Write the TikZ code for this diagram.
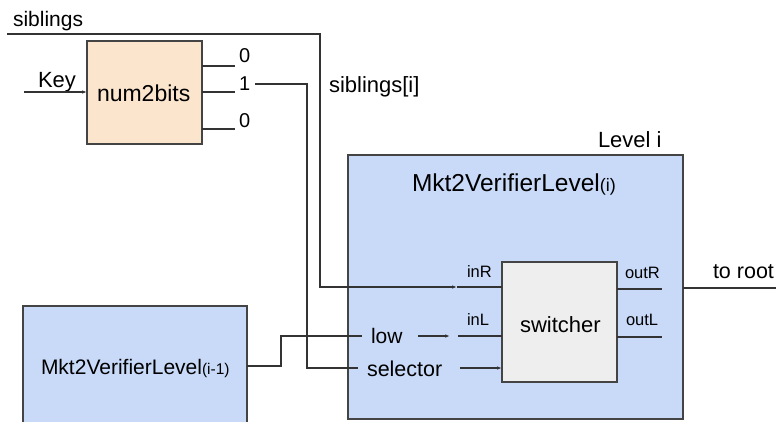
\documentclass[tikz,border=0pt]{standalone}
\usepackage{fontspec}
\setmainfont{Liberation Sans}
\usetikzlibrary{arrows.meta}
\definecolor{bluefill}{HTML}{C9DAF8}
\definecolor{peach}{HTML}{FCE5CD}
\definecolor{swgray}{HTML}{EEEEEE}
\definecolor{ink}{HTML}{333333}
\definecolor{edge}{HTML}{444444}
\newcommand{\setpx}[1]{\fontsize{#1}{#1}\selectfont}

\begin{document}
\begin{tikzpicture}[x=1pt,y=-1pt,
  box/.style={draw=edge, line width=1.1pt, inner sep=0pt, outer sep=0pt},
  wire/.style={draw=ink, line width=1.1pt},
  arr/.style={wire, -{Latex[length=5pt,width=3.5pt]}},
  lbl/.style={inner sep=0pt, outer sep=0pt, anchor=base west, text=black, font=\setpx{22}},
  pin/.style={lbl, font=\setpx{16.5}},
]
\clip (0,0) rectangle (776,421);
\fill[white] (0,0) rectangle (776,421);

% blocks
\node[box, fill=peach, minimum width=115pt, minimum height=103pt] (nb) at (144.5,92.5) {};
\node[lbl, font=\setpx{23}] (nbtext) at (97,101) {num2bits};

\node[box, fill=bluefill, minimum width=224pt, minimum height=120pt] (prev) at (135,366) {};
\node[lbl, font=\setpx{21}] (prevtext) at (41,374) {Mkt2VerifierLevel{\setpx{15.5}(i-1)}};

\node[box, fill=bluefill, minimum width=335pt, minimum height=264pt] (lvl) at (515.5,287) {};
\node[lbl, font=\setpx{24.5}] (lvltext) at (412,191) {Mkt2VerifierLevel{\setpx{18}(i)}};
\node[lbl] (levelname) at (598,147) {Level i};

\node[box, fill=swgray, minimum width=115pt, minimum height=120pt] (sw) at (559.5,322) {};
\node[lbl] (swtext) at (520,332) {switcher};

% labels
\node[lbl, font=\setpx{21}] (sibtext) at (13,26) {siblings};
\node[lbl] (keytext) at (38,87) {Key};
\node[lbl, font=\setpx{20}] (bitA) at (239,62) {0};
\node[lbl, font=\setpx{20}] (bitB) at (239,90) {1};
\node[lbl, font=\setpx{20}] (bitC) at (239,127) {0};
\node[lbl] (sibi) at (329,92) {siblings[i]};
\node[pin] (inR) at (467,277) {inR};
\node[pin] (inL) at (467,325) {inL};
\node[pin] (outR) at (625,278) {outR};
\node[pin] (outL) at (626,325) {outL};
\node[lbl, font=\setpx{21.5}] (toroot) at (713,278) {to root};
\node[lbl, font=\setpx{21}] (low) at (371,343) {low};
\node[lbl, font=\setpx{21.5}] (sel) at (367,376) {selector};

% wire end points
\coordinate (keyin) at (24,92);
\coordinate (bitAend) at (235,66);
\coordinate (bitBend) at (235,92);
\coordinate (bitCend) at (235,129);
\coordinate (sibstart) at (7,34);
\coordinate (sibcorner) at (320,34);
\coordinate (inRarr) at (457,287);
\coordinate (selstart) at (255,84);
\coordinate (selcorner) at (307,84);
\coordinate (selend) at (358,368);
\coordinate (lowjog) at (281,366);
\coordinate (lowend) at (362,336);
\coordinate (lowarrA) at (418,336);
\coordinate (lowarrB) at (450,336);
\coordinate (inLstart) at (458,336);
\coordinate (selarrA) at (460,368);
\coordinate (outRend) at (662,289);
\coordinate (outLend) at (662,337);
\coordinate (rootend) at (780,288);

% num2bits input and outputs
\draw[arr] (keyin) -- (nb.west |- keyin);
\draw[wire] (nb.east |- bitAend) -- (bitAend);
\draw[wire] (nb.east |- bitBend) -- (bitBend);
\draw[wire] (nb.east |- bitCend) -- (bitCend);

% siblings -> inR
\draw[arr] (sibstart) -- (sibcorner) |- (inRarr);
\draw[wire] (inRarr) -- (sw.west |- inRarr);

% bit 1 -> selector
\draw[wire] (selstart) -- (selcorner) |- (selend);
\draw[arr] (selarrA) -- (sw.west |- selarrA);

% previous level -> low -> inL
\draw[wire] (prev.east |- lowjog) -- (lowjog) |- (lowend);
\draw[arr] (lowarrA) -- (lowarrB);
\draw[wire] (inLstart) -- (sw.west |- inLstart);

% switcher outputs
\draw[wire] (sw.east |- outRend) -- (outRend);
\draw[wire] (sw.east |- outLend) -- (outLend);
\draw[wire] (lvl.east |- rootend) -- (rootend);
\end{tikzpicture}
\end{document}
